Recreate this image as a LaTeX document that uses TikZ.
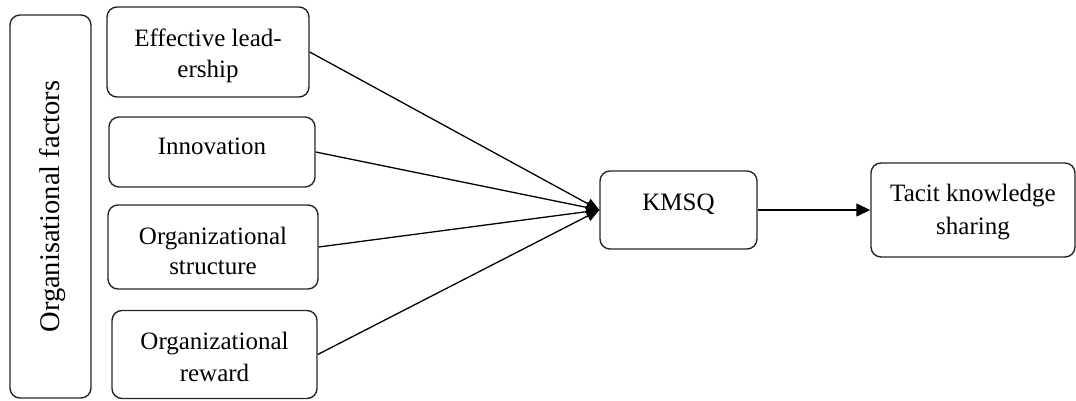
\documentclass[tikz,border=0pt]{standalone}
\usepackage{fontspec}
\setmainfont{Liberation Serif}
\usetikzlibrary{arrows.meta}
\begin{document}
\begin{tikzpicture}[x=1pt,y=-1pt,
  box/.style={draw=black!85,line width=1.4pt,rounded corners=10pt,inner sep=0pt},
  lbl/.style={align=center,inner sep=0pt,font=\fontsize{25}{#1}\selectfont},
  lbl/.default=31,
  conn/.style={line width=1.3pt,-{Triangle[length=13pt,width=11pt]}}]
\useasboundingbox (0,0) rectangle (1076,401);
\node[box,minimum width=81pt,minimum height=383pt] (lf) at (50.5,206.5) {};
\node[inner sep=0pt,rotate=90,font=\fontsize{28.5}{32}\selectfont] (lft) at (53,206.5) {Organisational factors};
\node[box,minimum width=202pt,minimum height=90pt] (b1) at (208,52) {};
\node[lbl=31] (t1) at (208,56) {Effective lead-\\ership};
\node[box,minimum width=206pt,minimum height=70pt] (b2) at (212,152) {};
\node[lbl,anchor=base] (t2) at (212,154) {Innovation};
\node[box,minimum width=210pt,minimum height=84pt] (b3) at (213,247) {};
\node[lbl=30] (t3) at (213,251) {Organizational\\structure};
\node[box,minimum width=205pt,minimum height=88pt] (b4) at (214.5,354.5) {};
\node[lbl=32] (t4) at (214.5,357) {Organizational\\reward};
\node[box,minimum width=157pt,minimum height=78pt] (k) at (678.5,210) {};
\node[lbl,anchor=base] (kt) at (678.5,210) {KMSQ};
\node[box,minimum width=204pt,minimum height=94pt] (tk) at (973,210) {};
\node[lbl=33] (tkt) at (973,212.5) {Tacit knowledge\\sharing};
\draw[conn] (b1.east) -- (k.west);
\draw[conn] (b2.east) -- (k.west);
\draw[conn] (b3.east) -- (k.west);
\draw[conn] (b4.east) -- (k.west);
\draw[line width=1.4pt,-{Triangle[length=14pt,width=13pt]}] (k.east) -- (tk.west);
\end{tikzpicture}
\end{document}
